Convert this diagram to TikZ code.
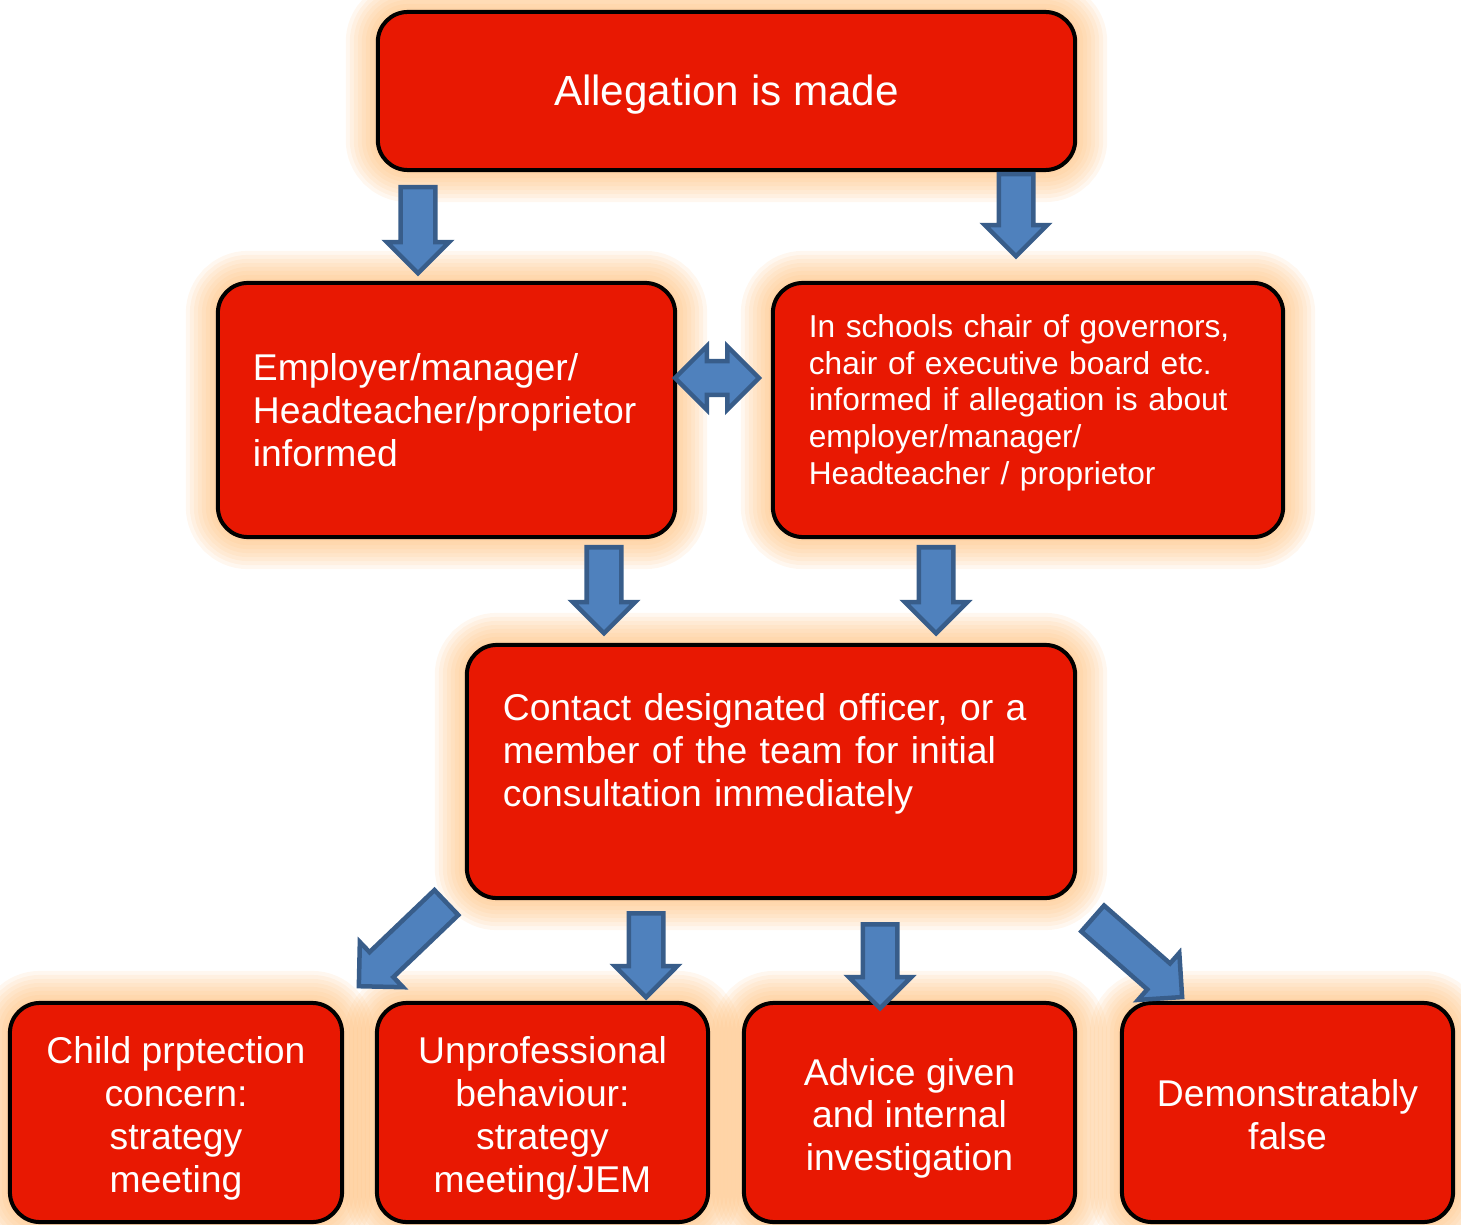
\documentclass[tikz,border=0pt]{standalone}
\usepackage{fontspec}
\setmainfont{Liberation Sans}
\usepackage{tikz}
\usetikzlibrary{shapes.arrows}

\definecolor{boxred}{RGB}{232,24,2}
\definecolor{glowc}{RGB}{255,185,110}
\definecolor{arrowblue}{RGB}{79,129,189}
\definecolor{arrowline}{RGB}{56,93,138}

\newcommand{\bigtxt}{\fontsize{12pt}{14pt}\selectfont}
\newcommand{\midtxt}{\fontsize{10.6pt}{12.2pt}\selectfont}
\newcommand{\smalltxt}{\fontsize{9pt}{10.4pt}\selectfont}
% invisible rules to place text in the box as the original does
\newcommand{\hstrut}{\rule{0pt}{11pt}}
\newcommand{\dstrut}[1]{\rule[-#1]{0pt}{0pt}}

\tikzset{
	glow/.style={
		preaction={draw=glowc, line width=0.64cm, draw opacity=0.11},
		preaction={draw=glowc, line width=0.56cm, draw opacity=0.11},
		preaction={draw=glowc, line width=0.48cm, draw opacity=0.11},
		preaction={draw=glowc, line width=0.40cm, draw opacity=0.11},
		preaction={draw=glowc, line width=0.32cm, draw opacity=0.11},
		preaction={draw=glowc, line width=0.24cm, draw opacity=0.11},
		preaction={draw=glowc, line width=0.16cm, draw opacity=0.11},
		preaction={draw=glowc, line width=0.08cm, draw opacity=0.11}},
	redbox/.style={glow, draw=black, line width=0.04cm, fill=boxred,
		rounded corners=0.3cm, text=white, inner ysep=0pt},
	blockarrow/.style={single arrow, draw=arrowline, fill=arrowblue,
		line width=0.045cm, minimum width=0.60cm, single arrow head extend=0.14cm,
		inner xsep=0pt, inner ysep=0.15cm, anchor=tail},
}

\begin{document}
\begin{tikzpicture}[x=0.01cm,y=-0.01cm]
	\useasboundingbox (0,0) rectangle (1461,1225);
	% boxes
	\node[redbox, minimum width=6.97cm, minimum height=1.58cm, font=\bigtxt] (allegation) at (726.5,91) {\hstrut Allegation is made};
	\node[redbox, minimum width=4.57cm, minimum height=2.54cm, text width=3.87cm, inner xsep=0.35cm, align=left, font=\midtxt] (employer) at (446.5,410)
		{Employer/manager/\\Headteacher/proprietor\\informed};
	\node[redbox, minimum width=5.10cm, minimum height=2.54cm, text width=4.38cm, inner xsep=0.36cm, align=left, font=\smalltxt] (chair) at (1028,410)
		{In schools chair of governors,\\chair of executive board etc.\\informed if allegation is about\\employer/manager/\\Headteacher / proprietor\dstrut{6pt}};
	\node[redbox, minimum width=6.08cm, minimum height=2.53cm, text width=5.36cm, inner xsep=0.36cm, align=left, font=\midtxt] (contact) at (771,771.5)
		{Contact designated officer, or a\\member of the team for initial\\consultation immediately\\~};
	\node[redbox, minimum width=3.32cm, minimum height=2.19cm, align=center, font=\midtxt] (protection) at (176,1112.5)
		{\hstrut Child prptection\\concern:\\strategy\\meeting\dstrut{2.2pt}};
	\node[redbox, minimum width=3.31cm, minimum height=2.19cm, align=center, font=\midtxt] (unprof) at (542.5,1112.5)
		{\hstrut Unprofessional\\behaviour:\\strategy\\meeting/JEM\dstrut{2.2pt}};
	\node[redbox, minimum width=3.31cm, minimum height=2.19cm, align=center, font=\midtxt] (advice) at (909.5,1112.5)
		{\hstrut Advice given\\and internal\\investigation\dstrut{2.2pt}};
	\node[redbox, minimum width=3.31cm, minimum height=2.19cm, align=center, font=\midtxt] (false) at (1287.5,1112.5)
		{\hstrut Demonstratably\\false\dstrut{2.2pt}};
	% arrows
	\foreach \n/\x/\y/\l/\r in {toemp/418/185/0.86/-90, tochair/1016/172/0.82/-90,
			empcon/604/545/0.86/-90, chaircon/936/545/0.86/-90,
			toprot/448/901/1.21/223.7, tounprof/646/911/0.84/-90,
			toadvice/880/922/0.84/-90, tofalse/1091/917/1.19/-41.3}
		\node[blockarrow, minimum height=\l cm, rotate=\r] (\n) at (\x,\y) {};
	\node[double arrow, draw=arrowline, fill=arrowblue, line width=0.045cm, minimum height=0.84cm,
		minimum width=0.60cm, double arrow head extend=0.15cm, inner xsep=0pt, inner ysep=0.145cm] (both) at (717,378) {};
\end{tikzpicture}
\end{document}
